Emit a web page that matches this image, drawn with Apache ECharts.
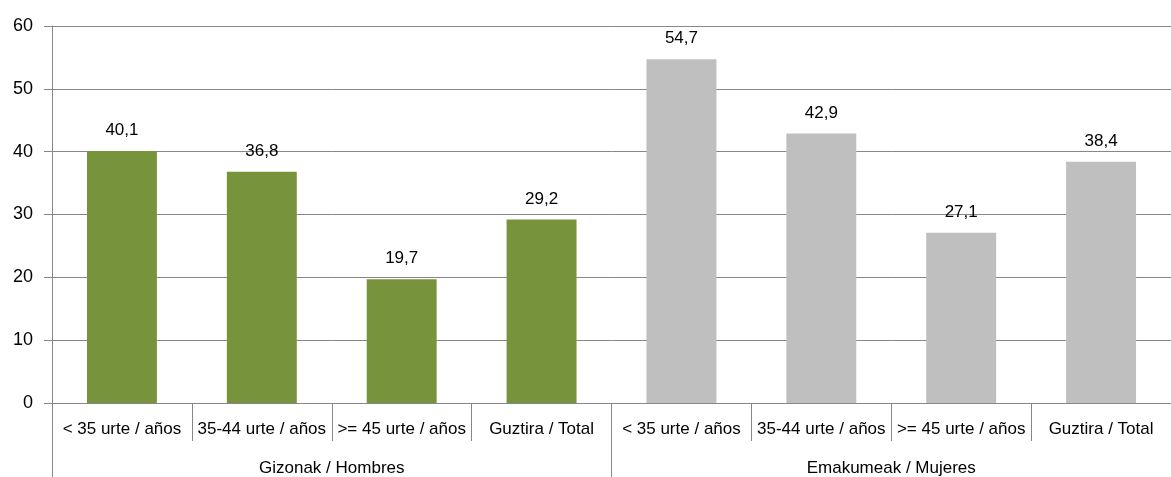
<!DOCTYPE html>
<html><head><meta charset="utf-8">
<script src="https://cdn.jsdelivr.net/npm/echarts@6/dist/echarts.min.js"></script>
<style>html,body{margin:0;padding:0;background:#fff}#c{width:1171px;height:477px}</style>
</head><body><div id="c"></div>
<script>
const categories = ['< 35 urte / años','35-44 urte / años','>= 45 urte / años','Guztira / Total','< 35 urte / años','35-44 urte / años','>= 45 urte / años','Guztira / Total'];
const groups = ['Gizonak / Hombres','Emakumeak / Mujeres'];
const values = [40.1, 36.8, 19.7, 29.2, 54.7, 42.9, 27.1, 38.4];
const groupOfBar = [0,0,0,0,1,1,1,1];
const groupColors = ['#77933C','#BFBFBF'];
const yTicks = [0,10,20,30,40,50,60];

const axisCol = '#878787';
const font = 'Liberation Sans, Arial, sans-serif';
const chart = echarts.init(document.getElementById('c'));
chart.setOption({
  animation:false,
  grid:{left:52, right:-4, top:26, bottom:74, containLabel:false},
  xAxis:[{
    type:'category', data:categories, position:'bottom',
    axisLine:{show:true, lineStyle:{color:axisCol, width:1}},
    axisTick:{show:true, interval:0, length:38, lineStyle:{color:axisCol}},
    axisLabel:{interval:0, color:'#000', fontFamily:font, fontSize:17, margin:18}
  },{
    type:'category', data:groups, position:'bottom', gridIndex:0,
    axisLine:{show:false},
    axisTick:{show:true, interval:0, length:80, lineStyle:{color:axisCol}},
    axisLabel:{interval:0, color:'#000', fontFamily:font, fontSize:17, margin:57}
  }],
  yAxis:{
    type:'value', min:yTicks[0], max:yTicks[yTicks.length-1], interval:10,
    axisLine:{show:true, lineStyle:{color:axisCol}},
    axisTick:{show:true, length:8, lineStyle:{color:axisCol}},
    splitLine:{show:true, lineStyle:{color:axisCol, width:1}},
    axisLabel:{color:'#000', fontFamily:font, fontSize:18, margin:19}
  },
  series:[{
    type:'bar', xAxisIndex:0, barWidth:'50%',
    data: values.map((v,i)=>({value:v, itemStyle:{color:groupColors[groupOfBar[i]]}})),
    label:{show:true, position:'top', distance:12, color:'#000', fontFamily:font, fontSize:17,
      formatter:p=>p.value.toFixed(1).replace('.',',')}
  }]
});
</script></body></html>
